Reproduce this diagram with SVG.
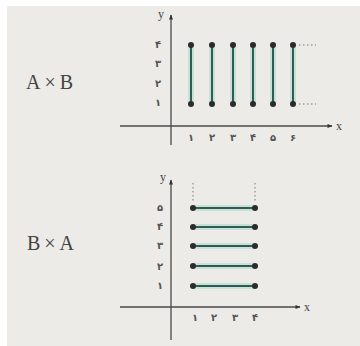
<svg xmlns="http://www.w3.org/2000/svg" width="360" height="346" viewBox="0 0 360 346">
<defs>
<style>
.axis{stroke:#4a4a4a;stroke-width:1.3;fill:none}
.seg{stroke:#2c5e55;stroke-width:2}
.glow{stroke:#9fd3c3;stroke-width:6;opacity:0.45}
.dot{fill:#2b2b2b}
.num{font-family:"DejaVu Sans",sans-serif;font-size:10px;font-weight:bold;fill:#555;text-anchor:middle;dominant-baseline:central}
.lbl{font-family:"Liberation Serif",serif;font-size:20px;letter-spacing:4px;fill:#444;dominant-baseline:central}
.ax{font-family:"Liberation Serif",serif;font-size:12px;fill:#444;dominant-baseline:central}
.dots{stroke:#777;stroke-width:1;stroke-dasharray:1.5 2.5}
</style>
<marker id="arr" viewBox="0 0 10 10" refX="9" refY="5" markerWidth="7" markerHeight="5" orient="auto" markerUnits="userSpaceOnUse">
<path d="M0,1 L10,5 L0,9 z" fill="#333"/>
</marker>
</defs>
<rect x="0" y="0" width="360" height="346" fill="#ffffff"/>
<rect x="7" y="6" width="353" height="340" fill="#ecebe8"/>

<g id="labels">
<text class="lbl" x="26" y="82">A×B</text>
<text class="lbl" x="27" y="243">B×A</text>
</g>

<g id="graph-AxB">
<g id="axes-top">
<line class="axis" x1="120" y1="126" x2="332" y2="126" marker-end="url(#arr)"/>
<line class="axis" x1="171" y1="145" x2="171" y2="15" marker-end="url(#arr)"/>
<text class="ax" x="336" y="126">x</text>
<text class="ax" x="158" y="14">y</text>
</g>
<g id="ticks-top">
<text class="num" x="158" y="44">۴</text>
<text class="num" x="158" y="63">۳</text>
<text class="num" x="158" y="83">۲</text>
<text class="num" x="158" y="102">۱</text>
<text class="num" x="191" y="137">۱</text>
<text class="num" x="212" y="137">۲</text>
<text class="num" x="233" y="137">۳</text>
<text class="num" x="253" y="137">۴</text>
<text class="num" x="273" y="137">۵</text>
<text class="num" x="293" y="137">۶</text>
</g>
<g id="connectors-top">
<line class="glow" x1="191" y1="45" x2="191" y2="104"/>
<line class="glow" x1="212" y1="45" x2="212" y2="104"/>
<line class="glow" x1="233" y1="45" x2="233" y2="104"/>
<line class="glow" x1="253" y1="45" x2="253" y2="104"/>
<line class="glow" x1="273" y1="45" x2="273" y2="104"/>
<line class="glow" x1="293" y1="45" x2="293" y2="104"/>
<line class="seg" x1="191" y1="45" x2="191" y2="104"/>
<line class="seg" x1="212" y1="45" x2="212" y2="104"/>
<line class="seg" x1="233" y1="45" x2="233" y2="104"/>
<line class="seg" x1="253" y1="45" x2="253" y2="104"/>
<line class="seg" x1="273" y1="45" x2="273" y2="104"/>
<line class="seg" x1="293" y1="45" x2="293" y2="104"/>
<line class="dots" x1="299" y1="45" x2="316" y2="45"/>
<line class="dots" x1="299" y1="104" x2="316" y2="104"/>
</g>
<g id="nodes-top">
<circle class="dot" cx="191" cy="45" r="3"/><circle class="dot" cx="191" cy="104" r="3"/>
<circle class="dot" cx="212" cy="45" r="3"/><circle class="dot" cx="212" cy="104" r="3"/>
<circle class="dot" cx="233" cy="45" r="3"/><circle class="dot" cx="233" cy="104" r="3"/>
<circle class="dot" cx="253" cy="45" r="3"/><circle class="dot" cx="253" cy="104" r="3"/>
<circle class="dot" cx="273" cy="45" r="3"/><circle class="dot" cx="273" cy="104" r="3"/>
<circle class="dot" cx="293" cy="45" r="3"/><circle class="dot" cx="293" cy="104" r="3"/>
</g>
</g>

<g id="graph-BxA">
<g id="axes-bottom">
<line class="axis" x1="120" y1="307" x2="300" y2="307" marker-end="url(#arr)"/>
<line class="axis" x1="171" y1="340" x2="171" y2="180" marker-end="url(#arr)"/>
<text class="ax" x="304" y="307">x</text>
<text class="ax" x="160" y="177">y</text>
</g>
<g id="ticks-bottom">
<text class="num" x="160" y="207">۵</text>
<text class="num" x="160" y="226">۴</text>
<text class="num" x="160" y="245">۳</text>
<text class="num" x="160" y="266">۲</text>
<text class="num" x="160" y="285">۱</text>
<text class="num" x="195" y="317">۱</text>
<text class="num" x="214" y="317">۲</text>
<text class="num" x="235" y="317">۳</text>
<text class="num" x="255" y="317">۴</text>
</g>
<g id="connectors-bottom">
<line class="dots" x1="193" y1="183" x2="193" y2="203"/>
<line class="dots" x1="255" y1="183" x2="255" y2="203"/>
<line class="glow" x1="193" y1="208" x2="255" y2="208"/>
<line class="glow" x1="193" y1="227" x2="255" y2="227"/>
<line class="glow" x1="193" y1="246" x2="255" y2="246"/>
<line class="glow" x1="193" y1="266" x2="255" y2="266"/>
<line class="glow" x1="193" y1="286" x2="255" y2="286"/>
<line class="seg" x1="193" y1="208" x2="255" y2="208"/>
<line class="seg" x1="193" y1="227" x2="255" y2="227"/>
<line class="seg" x1="193" y1="246" x2="255" y2="246"/>
<line class="seg" x1="193" y1="266" x2="255" y2="266"/>
<line class="seg" x1="193" y1="286" x2="255" y2="286"/>
</g>
<g id="nodes-bottom">
<circle class="dot" cx="193" cy="208" r="3"/><circle class="dot" cx="255" cy="208" r="3"/>
<circle class="dot" cx="193" cy="227" r="3"/><circle class="dot" cx="255" cy="227" r="3"/>
<circle class="dot" cx="193" cy="246" r="3"/><circle class="dot" cx="255" cy="246" r="3"/>
<circle class="dot" cx="193" cy="266" r="3"/><circle class="dot" cx="255" cy="266" r="3"/>
<circle class="dot" cx="193" cy="286" r="3"/><circle class="dot" cx="255" cy="286" r="3"/>
</g>
</g>
</svg>
